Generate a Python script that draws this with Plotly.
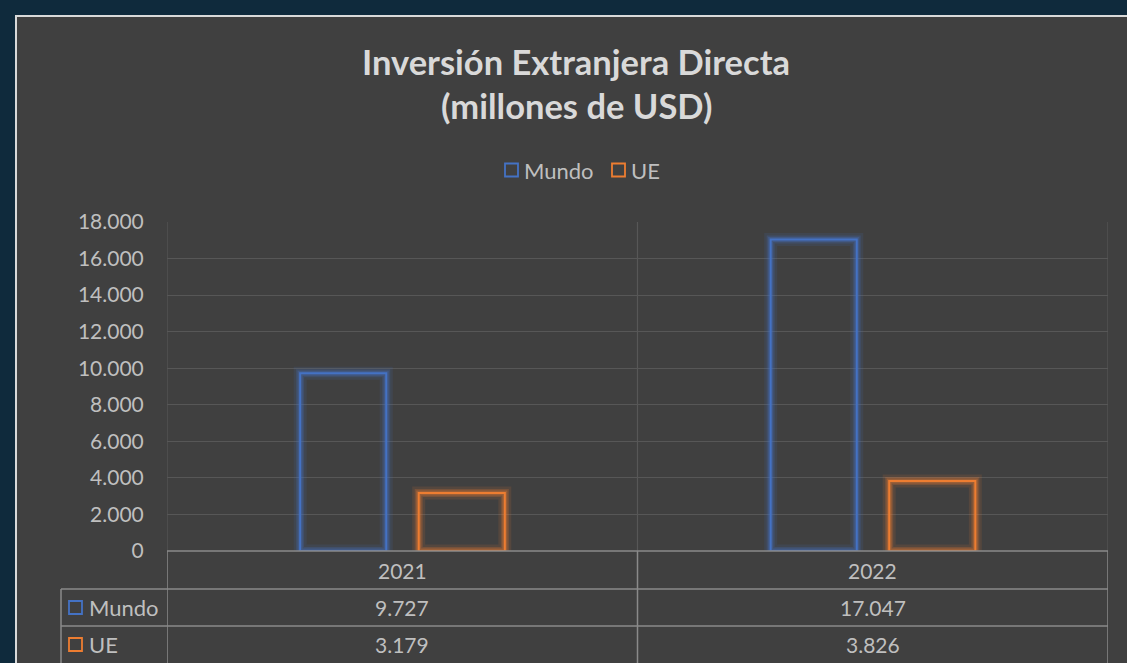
import plotly.graph_objects as go

# --- data ---
years = ["2021", "2022"]
series_names = ["Mundo", "UE"]
mundo = [9727, 17047]
ue = [3179, 3826]
y_ticks = [0, 2000, 4000, 6000, 8000, 10000, 12000, 14000, 16000, 18000]

colors = {"Mundo": "#4472c4", "UE": "#ed7d31"}
glow = {"Mundo": "68,114,196", "UE": "237,125,49"}
values = {"Mundo": mundo, "UE": ue}

# --- pixel geometry of the plot area ---
W, H = 1127, 663
L, R, T, B = 167, 1108, 222, 551
FONT = "Lato"
TXT = "#bfbfbf"
TABLE_LINE = "#8a8a8a"


def px_x(px):
    return (px - L) / (R - L)


def px_y(py):
    return (B - py) / (B - T)


def fmt(v):
    return f"{v:,}".replace(",", ".")


fig = go.Figure()

bar_w = 0.183
offsets = {"Mundo": -0.217, "UE": 0.035}

for name in series_names:
    # soft glow behind the outline
    for lw, a in [(13, 0.12), (8, 0.22), (5, 0.3)]:
        fig.add_trace(go.Bar(
            x=list(range(len(years))), y=values[name], width=bar_w, offset=offsets[name],
            marker=dict(color="rgba(0,0,0,0)", line=dict(color=f"rgba({glow[name]},{a})", width=lw)),
            showlegend=False, hoverinfo="skip"))
    fig.add_trace(go.Bar(
        x=list(range(len(years))), y=values[name], width=bar_w, offset=offsets[name], name=name,
        marker=dict(color="rgba(0,0,0,0)", line=dict(color=colors[name], width=2)),
        showlegend=False))

shapes = []
# chart area panel
shapes.append(dict(type="rect", xref="paper", yref="paper", layer="below",
                   x0=px_x(16), x1=px_x(1140), y0=px_y(16), y1=px_y(700),
                   fillcolor="#404040", line=dict(color="#d9d9d9", width=2)))

# vertical separators through plot and table
for xv in [-0.5, 0.5, 1.5]:
    shapes.append(dict(type="line", xref="x", yref="y", x0=xv, x1=xv, y0=0, y1=18000,
                       line=dict(color="#575757", width=1.2)))
    shapes.append(dict(type="line", xref="x", yref="paper", x0=xv, x1=xv,
                       y0=0, y1=px_y(700), line=dict(color=TABLE_LINE, width=1.5)))

# table horizontal lines
shapes.append(dict(type="line", xref="paper", yref="paper", x0=0, x1=1,
                   y0=0, y1=0, line=dict(color=TABLE_LINE, width=1.5)))
for py in [589, 626]:
    shapes.append(dict(type="line", xref="paper", yref="paper", x0=px_x(61), x1=1,
                       y0=px_y(py), y1=px_y(py), line=dict(color=TABLE_LINE, width=1.5)))
shapes.append(dict(type="line", xref="paper", yref="paper", x0=px_x(61), x1=px_x(61),
                   y0=px_y(589), y1=px_y(700), line=dict(color=TABLE_LINE, width=1.5)))

annotations = []
# title
annotations.append(dict(text="<b>Inversión Extranjera Directa</b>", xref="paper", yref="paper",
                        x=px_x(576), y=px_y(62), showarrow=False, xanchor="center", yanchor="middle",
                        font=dict(family=FONT, size=34.5, color="#d9d9d9")))
annotations.append(dict(text="<b>(millones de USD)</b>", xref="paper", yref="paper",
                        x=px_x(576), y=px_y(105), showarrow=False, xanchor="center", yanchor="middle",
                        font=dict(family=FONT, size=34.5, color="#d9d9d9")))

# custom legend
legend_pos = {"Mundo": 505, "UE": 612}
for name in series_names:
    x0 = legend_pos[name]
    shapes.append(dict(type="rect", xref="paper", yref="paper",
                       x0=px_x(x0), x1=px_x(x0 + 13), y0=px_y(163.5), y1=px_y(176.5),
                       line=dict(color=colors[name], width=1.8), fillcolor="rgba(0,0,0,0)"))
    annotations.append(dict(text=name, xref="paper", yref="paper", x=px_x(x0 + 17), y=px_y(170),
                            showarrow=False, xanchor="left", yanchor="middle",
                            font=dict(family=FONT, size=22, color=TXT)))

# data table
for i, yr in enumerate(years):
    annotations.append(dict(text=yr, xref="x", yref="paper", x=i, y=px_y(570),
                            showarrow=False, xanchor="center", yanchor="middle",
                            font=dict(family=FONT, size=21, color=TXT)))
row_y = {"Mundo": 607.5, "UE": 644.5}
for name in series_names:
    cy = row_y[name]
    shapes.append(dict(type="rect", xref="paper", yref="paper",
                       x0=px_x(69), x1=px_x(82), y0=px_y(cy - 6.5), y1=px_y(cy + 6.5),
                       line=dict(color=colors[name], width=1.8), fillcolor="rgba(0,0,0,0)"))
    annotations.append(dict(text=name, xref="paper", yref="paper", x=px_x(87), y=px_y(cy),
                            showarrow=False, xanchor="left", yanchor="middle",
                            font=dict(family=FONT, size=22, color=TXT)))
    for i, v in enumerate(values[name]):
        annotations.append(dict(text=fmt(v), xref="x", yref="paper", x=i, y=px_y(cy),
                                showarrow=False, xanchor="center", yanchor="middle",
                                font=dict(family=FONT, size=21, color=TXT)))

fig.update_layout(
    width=W, height=H,
    margin=dict(l=L, r=W - R, t=T, b=H - B, autoexpand=False),
    paper_bgcolor="#0f2a3c", plot_bgcolor="#404040",
    barmode="overlay",
    showlegend=False,
    xaxis=dict(range=[-0.5, 1.5], showticklabels=False, showgrid=False,
               zeroline=False, showline=False, fixedrange=True),
    yaxis=dict(range=[0, 18000], tickvals=y_ticks, ticktext=[fmt(v) for v in y_ticks],
               tickfont=dict(family=FONT, size=21, color=TXT),
               ticks="outside", ticklen=18, tickcolor="rgba(0,0,0,0)",
               showgrid=True, gridcolor="#575757", gridwidth=1.2,
               zeroline=False, showline=False, fixedrange=True),
    shapes=shapes,
    annotations=annotations,
)

fig.write_html("out.html", config={"displayModeBar": False},
               post_script="document.body.style.margin='0';")
